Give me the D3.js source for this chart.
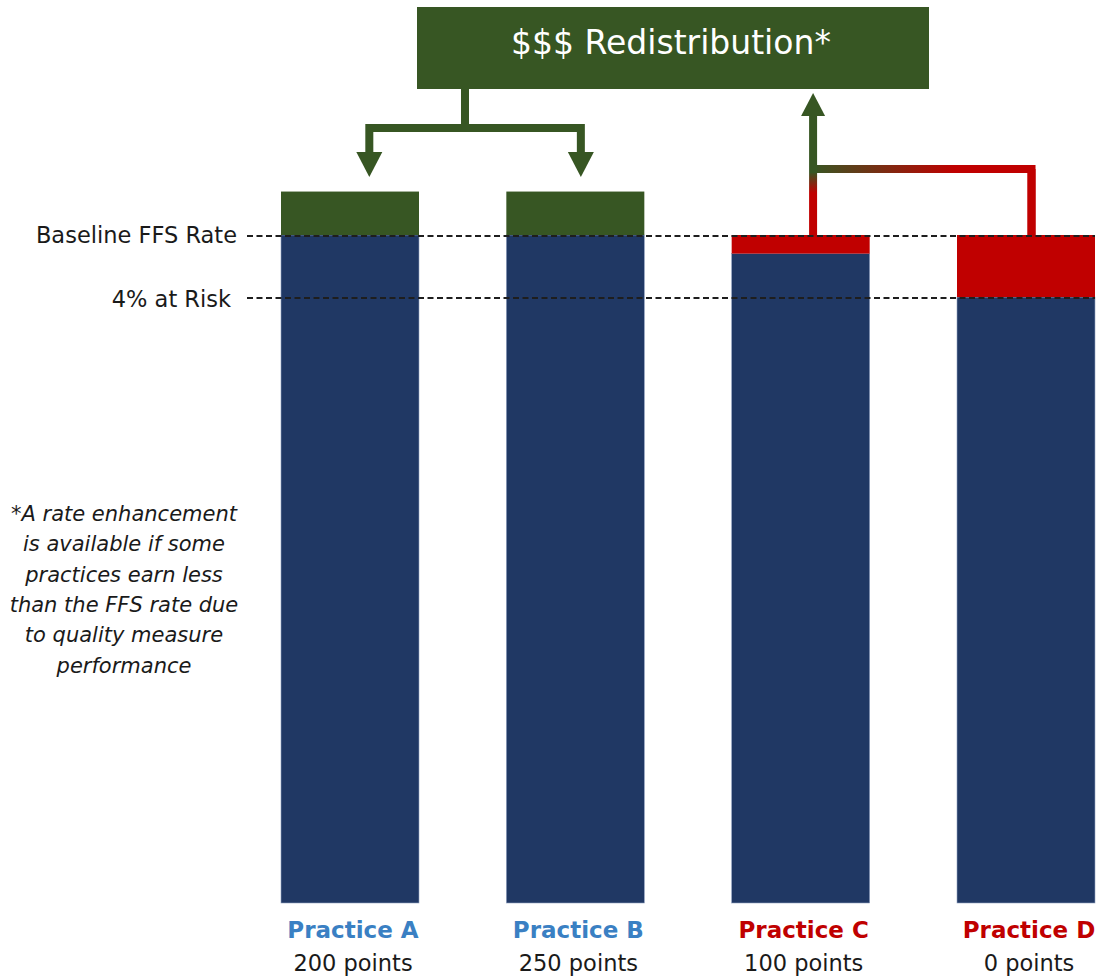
<!DOCTYPE html>
<html><head><meta charset="utf-8">
<script src="https://cdn.jsdelivr.net/npm/d3@7"></script>
<style>body{margin:0;background:#fff}</style>
</head><body><svg id="c" width="1096" height="979"></svg>
<script>
// ---- data ----
const practices = ["Practice A", "Practice B", "Practice C", "Practice D"];
const pointsLabels = ["200 points", "250 points", "100 points", "0 points"];
const earned = [102.8, 102.8, 98.8, 96.0];       // payment as % of baseline FFS
const outcome = ["gain", "gain", "loss", "loss"];
const refLabels = ["Baseline FFS Rate", "4% at Risk"];
const refValues = [100, 96];
const titleText = "$$$ Redistribution*";
const noteLines = ["*A rate enhancement", "is available if some", "practices earn less",
                   "than the FFS rate due", "to quality measure", "performance"];

// ---- styles ----
const NAVY = "#203864", GREEN = "#375623", RED = "#c00000", BLUE = "#3a80c3";
const FONT = "'DejaVu Sans', Verdana, sans-serif";

const svg = d3.select("#c");
const defs = svg.append("defs");

const x = d3.scaleBand().domain(practices).range([281, 1095]).paddingInner(0.3876).paddingOuter(0);
const y = d3.scaleLinear().domain([56.95, 100]).range([903, 235]);
const bw = x.bandwidth();
const base = refValues[0];
const floorY = y(y.domain()[0]);

const rows = practices.map((p, i) => ({p, v: earned[i], o: outcome[i], pts: pointsLabels[i]}));

// navy base part
svg.append("g").selectAll("rect").data(rows).join("rect")
  .attr("x", d => x(d.p)).attr("width", bw)
  .attr("y", d => y(Math.min(d.v, base)))
  .attr("height", d => floorY - y(Math.min(d.v, base)))
  .attr("fill", NAVY).attr("stroke", "#8fa0bf").attr("stroke-width", 0.6);

// gain / loss part
svg.append("g").selectAll("rect").data(rows).join("rect")
  .attr("x", d => x(d.p)).attr("width", bw)
  .attr("y", d => y(Math.max(d.v, base)))
  .attr("height", d => Math.abs(y(d.v) - y(base)))
  .attr("fill", d => d.o === "gain" ? GREEN : RED);

// reference dashed lines
const lineX0 = 247, lineX1 = 1095;
svg.append("g").selectAll("line").data(refValues).join("line")
  .attr("x1", lineX0).attr("x2", lineX1)
  .attr("y1", d => y(d) + 1).attr("y2", d => y(d) + 1)
  .attr("stroke", "#1e1e1e").attr("stroke-width", 2).attr("stroke-dasharray", "6,3.5");

svg.append("g").selectAll("text").data(refValues).join("text")
  .attr("x", (d, i) => lineX0 - 10 - i * 6)
  .attr("y", (d, i) => y(d) + 8 + i * 2)
  .attr("text-anchor", "end")
  .attr("font-family", FONT).attr("font-size", 22.5).attr("fill", "#1a1a1a")
  .text((d, i) => refLabels[i]);

// category labels
const lab = svg.append("g").selectAll("g").data(rows).join("g")
  .attr("transform", d => `translate(${x(d.p) + bw / 2 + 3},0)`);
lab.append("text").attr("y", 938).attr("text-anchor", "middle")
  .attr("font-family", FONT).attr("font-weight", "bold").attr("font-size", 23)
  .attr("fill", d => d.o === "gain" ? BLUE : RED).text(d => d.p);
lab.append("text").attr("y", 971).attr("text-anchor", "middle")
  .attr("font-family", FONT).attr("font-size", 22.5).attr("fill", "#1a1a1a").text(d => d.pts);

// footnote
svg.append("text").attr("font-family", FONT).attr("font-style", "italic")
  .attr("font-size", 21).attr("fill", "#1a1a1a").attr("text-anchor", "middle")
  .selectAll("tspan").data(noteLines).join("tspan")
  .attr("x", 124).attr("y", (d, i) => 521 + i * 30.3).text(d => d);

// title box
const boxX0 = 417, boxX1 = 929, boxY0 = 7, boxY1 = 89;
svg.append("rect").attr("x", boxX0).attr("y", boxY0).attr("width", boxX1 - boxX0).attr("height", boxY1 - boxY0)
  .attr("fill", GREEN);
svg.append("text").attr("x", (boxX0 + boxX1) / 2 - 2).attr("y", 54).attr("text-anchor", "middle")
  .attr("font-family", FONT).attr("font-size", 33).attr("fill", "#fff").text(titleText);

// ---- connectors ----
const SW = 8;
const xA = x(practices[0]) + bw * 0.64, xB = x(practices[1]) + bw * 0.54;
const xC = x(practices[2]) + bw * 0.59, xD = x(practices[3]) + bw * 0.54;
const stemX = 465, hubY = 128, tipDown = 177, headH = 25, headW = 26;

svg.append("path").attr("d", `M${stemX},${boxY1} V${hubY}`)
  .attr("fill", "none").attr("stroke", GREEN).attr("stroke-width", SW);
svg.append("path").attr("d", `M${xA},${tipDown - headH + 2} V${hubY} H${xB} V${tipDown - headH + 2}`)
  .attr("fill", "none").attr("stroke", GREEN).attr("stroke-width", SW).attr("stroke-linejoin", "miter");
[xA, xB].forEach(cx => {
  svg.append("path").attr("d", `M${cx - headW / 2},${tipDown - headH} L${cx + headW / 2},${tipDown - headH} L${cx},${tipDown} Z`)
    .attr("fill", GREEN);
});

// gradients
const gH = defs.append("linearGradient").attr("id", "gH").attr("gradientUnits", "userSpaceOnUse")
  .attr("x1", xC).attr("x2", xD).attr("y1", 0).attr("y2", 0);
gH.append("stop").attr("offset", 0).attr("stop-color", GREEN);
gH.append("stop").attr("offset", 0.65).attr("stop-color", RED);
const busY = 169;
const gV = defs.append("linearGradient").attr("id", "gV").attr("gradientUnits", "userSpaceOnUse")
  .attr("x1", 0).attr("x2", 0).attr("y1", busY + 3).attr("y2", busY + 24);
gV.append("stop").attr("offset", 0).attr("stop-color", GREEN);
gV.append("stop").attr("offset", 1).attr("stop-color", RED);

svg.append("path").attr("d", `M${xC},${busY} H${xD} V${y(base)}`)
  .attr("fill", "none").attr("stroke", "url(#gH)").attr("stroke-width", SW).attr("stroke-linejoin", "miter");
svg.append("path").attr("d", `M${xD},${busY} V${y(base)}`)
  .attr("fill", "none").attr("stroke", RED).attr("stroke-width", SW);
svg.append("path").attr("d", `M${xC},${busY + SW / 2} V${y(base)}`)
  .attr("fill", "none").attr("stroke", "url(#gV)").attr("stroke-width", SW);
const tipUp = 93;
svg.append("path").attr("d", `M${xC},${busY + SW / 2} V${tipUp + 20}`)
  .attr("fill", "none").attr("stroke", GREEN).attr("stroke-width", SW);
svg.append("path").attr("d", `M${xC - 12},${tipUp + 23} L${xC + 12},${tipUp + 23} L${xC},${tipUp} Z`)
  .attr("fill", GREEN);
</script></body></html>
